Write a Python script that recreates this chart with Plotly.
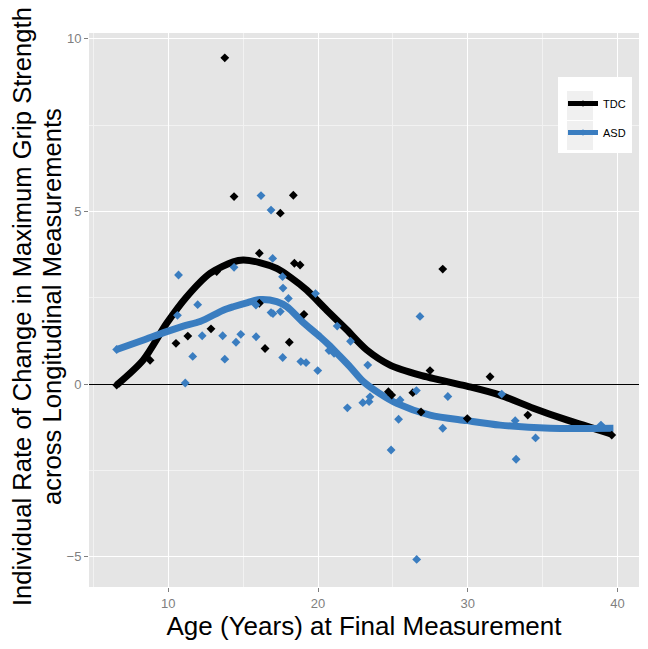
import plotly.graph_objects as go

# ---------------- data ----------------
tdc_age = [13.77, 14.39, 18.35, 17.48, 16.08, 18.42, 18.80, 13.23, 19.06, 12.85,
           11.30, 10.51, 18.08, 16.46, 8.78, 16.08, 28.33, 27.48, 31.49, 24.70,
           24.92, 26.33, 26.88, 29.97, 34.01, 39.62, 6.55]
tdc_rate = [9.45, 5.43, 5.47, 4.95, 3.79, 3.50, 3.45, 3.26, 2.02, 1.60,
            1.39, 1.18, 1.21, 1.03, 0.69, 2.34, 3.33, 0.39, 0.21, -0.22,
            -0.32, -0.25, -0.81, -1.00, -0.90, -1.48, -0.03]

asd_age = [16.19, 16.86, 16.97, 14.39, 10.68, 17.63, 17.66, 18.02, 19.83, 11.96,
           15.85, 16.86, 16.99, 17.48, 21.28, 10.61, 12.26, 13.63, 14.84, 14.52,
           15.86, 11.63, 13.77, 17.64, 18.85, 19.20, 19.98, 11.13, 20.73, 21.07,
           22.17, 23.32, 26.81, 21.96, 22.99, 23.41, 23.47, 25.48, 26.57, 28.67,
           25.38, 24.88, 28.33, 32.27, 33.17, 34.53, 33.23, 26.59, 38.90, 6.55]
asd_rate = [5.46, 5.04, 3.64, 3.38, 3.16, 3.11, 2.78, 2.48, 2.62, 2.30,
            2.29, 2.07, 2.04, 2.10, 1.68, 1.99, 1.40, 1.40, 1.44, 1.21,
            1.37, 0.80, 0.72, 0.77, 0.65, 0.62, 0.39, 0.03, 0.97, 0.89,
            1.24, 0.55, 1.96, -0.69, -0.54, -0.51, -0.37, -0.46, -0.19, -0.36,
            -1.02, -1.91, -1.28, -0.29, -1.06, -1.56, -2.18, -5.08, -1.19, 1.00]

# smoothed (loess) curves as drawn in the reference
tdc_fit_age = [6.55, 8.33, 9.89, 11.23, 12.79, 14.34, 15.0, 16.1, 17.24, 18.2,
               19.25, 20.58, 21.92, 23.25, 24.81, 26.81, 29.93, 32.16, 34.38, 36.61, 39.62]
tdc_fit = [-0.03, 0.70, 1.76, 2.53, 3.21, 3.54, 3.59, 3.52, 3.35, 3.08,
           2.72, 2.14, 1.57, 0.99, 0.55, 0.26, -0.06, -0.32, -0.70, -1.04, -1.45]

asd_fit_age = [6.55, 8.3, 9.89, 11.0, 12.12, 13.67, 14.34, 15.3, 16.13, 17.24,
               17.91, 19.02, 20.13, 20.8, 21.25, 22.14, 23.03, 24.1, 25.26, 27.48,
               29.93, 32.16, 35.5, 39.73]
asd_fit = [1.00, 1.27, 1.52, 1.68, 1.81, 2.14, 2.24, 2.36, 2.45, 2.39,
           2.24, 1.78, 1.37, 1.10, 0.90, 0.50, 0.07, -0.27, -0.56, -0.90,
           -1.06, -1.19, -1.28, -1.28]

group_names = ["TDC", "ASD"]
x_ticks = [10, 20, 30, 40]
y_ticks = [-5, 0, 5, 10]

x_title = "Age (Years) at Final Measurement"
y_title_1 = "Individual Rate of Change in Maximum Grip Strength"
y_title_2 = "across Longitudinal Measurements"

# ---------------- styling ----------------
BLACK = "#000000"
BLUE = "#3a7dc0"
FONT = "Liberation Sans, Arial, sans-serif"
TICK_GREY = "#7f7f7f"

fig = go.Figure()

# smooth lines first (points are drawn over them)
fig.add_trace(go.Scatter(x=tdc_fit_age, y=tdc_fit, mode="lines",
                         line=dict(color=BLACK, width=7, shape="spline", smoothing=0.8),
                         showlegend=False, hoverinfo="skip"))
fig.add_trace(go.Scatter(x=asd_fit_age, y=asd_fit, mode="lines",
                         line=dict(color=BLUE, width=7, shape="spline", smoothing=0.8),
                         showlegend=False, hoverinfo="skip"))

fig.add_trace(go.Scatter(x=tdc_age, y=tdc_rate, mode="markers",
                         marker=dict(symbol="diamond", size=6.8, color=BLACK, line=dict(width=0)),
                         showlegend=False))
fig.add_trace(go.Scatter(x=asd_age, y=asd_rate, mode="markers",
                         marker=dict(symbol="diamond", size=6.8, color=BLUE, line=dict(width=0)),
                         showlegend=False))

# legend entries
for name, col in zip(group_names, [BLACK, BLUE]):
    fig.add_trace(go.Scatter(x=[None], y=[None], mode="lines+markers", name=name,
                             legendgroup=name,
                             line=dict(color=col, width=5),
                             marker=dict(symbol="diamond", size=5, color=col)))

# page has an 8px body margin; figure sized to fit the window
OFF = 8
W, H = 640, 641
L, R, T, B = 81, 9, 25, 62
pw, ph = W - L - R, H - T - B

def px_x(p):
    # p: screen x in reference picture
    return (p - OFF - L) / pw

def px_y(p):
    return (H - B - (p - OFF)) / ph

axis_common = dict(
    showgrid=True, gridcolor="white", gridwidth=1.3,
    ticks="outside", ticklen=4, tickwidth=1, tickcolor=TICK_GREY,
    tickfont=dict(family=FONT, size=13, color=TICK_GREY),
    showline=False, zeroline=False, automargin=False,
)

fig.update_layout(
    width=W, height=H,
    margin=dict(l=L, r=R, t=T, b=B),
    paper_bgcolor="white", plot_bgcolor="#e5e5e5",
    font=dict(family=FONT),
    xaxis=dict(range=[4.7, 41.44], tickvals=x_ticks,
               minor=dict(dtick=5, tick0=0, showgrid=True, gridcolor="#f2f2f2", gridwidth=0.6),
               title=dict(text=x_title, font=dict(family=FONT, size=26, color="black"), standoff=5),
               **axis_common),
    yaxis=dict(range=[-5.88, 10.17], tickvals=y_ticks,
               minor=dict(dtick=2.5, tick0=0, showgrid=True, gridcolor="#f2f2f2", gridwidth=0.6),
               **axis_common),
    legend=dict(x=px_x(563), y=px_y(89), xanchor="left", yanchor="top",
                bgcolor="rgba(0,0,0,0)", borderwidth=0,
                font=dict(family=FONT, size=11, color="black"),
                tracegroupgap=10, itemwidth=30),
    showlegend=True,
)

# horizontal reference line at zero
fig.update_yaxes(zeroline=True, zerolinecolor="black", zerolinewidth=1)

# legend box and key backgrounds
shapes = [
    dict(type="rect", xref="paper", yref="paper", x0=px_x(558), x1=px_x(632),
         y0=px_y(153), y1=px_y(77), fillcolor="white", line=dict(width=0), layer="above"),
    dict(type="rect", xref="paper", yref="paper", x0=px_x(567), x1=px_x(593),
         y0=px_y(120), y1=px_y(91), fillcolor="#f0f0f0", line=dict(width=0), layer="above"),
    dict(type="rect", xref="paper", yref="paper", x0=px_x(567), x1=px_x(593),
         y0=px_y(150), y1=px_y(121), fillcolor="#f0f0f0", line=dict(width=0), layer="above"),
]
fig.update_layout(shapes=shapes)

fig.add_annotation(text=y_title_1, xref="paper", yref="paper", x=px_x(22), y=px_y(307),
                   xanchor="center", yanchor="middle", textangle=-90, showarrow=False,
                   font=dict(family=FONT, size=25.6, color="black"))
fig.add_annotation(text=y_title_2, xref="paper", yref="paper", x=px_x(52), y=px_y(307),
                   xanchor="center", yanchor="middle", textangle=-90, showarrow=False,
                   font=dict(family=FONT, size=25.6, color="black"))

fig.write_html("out.html")
